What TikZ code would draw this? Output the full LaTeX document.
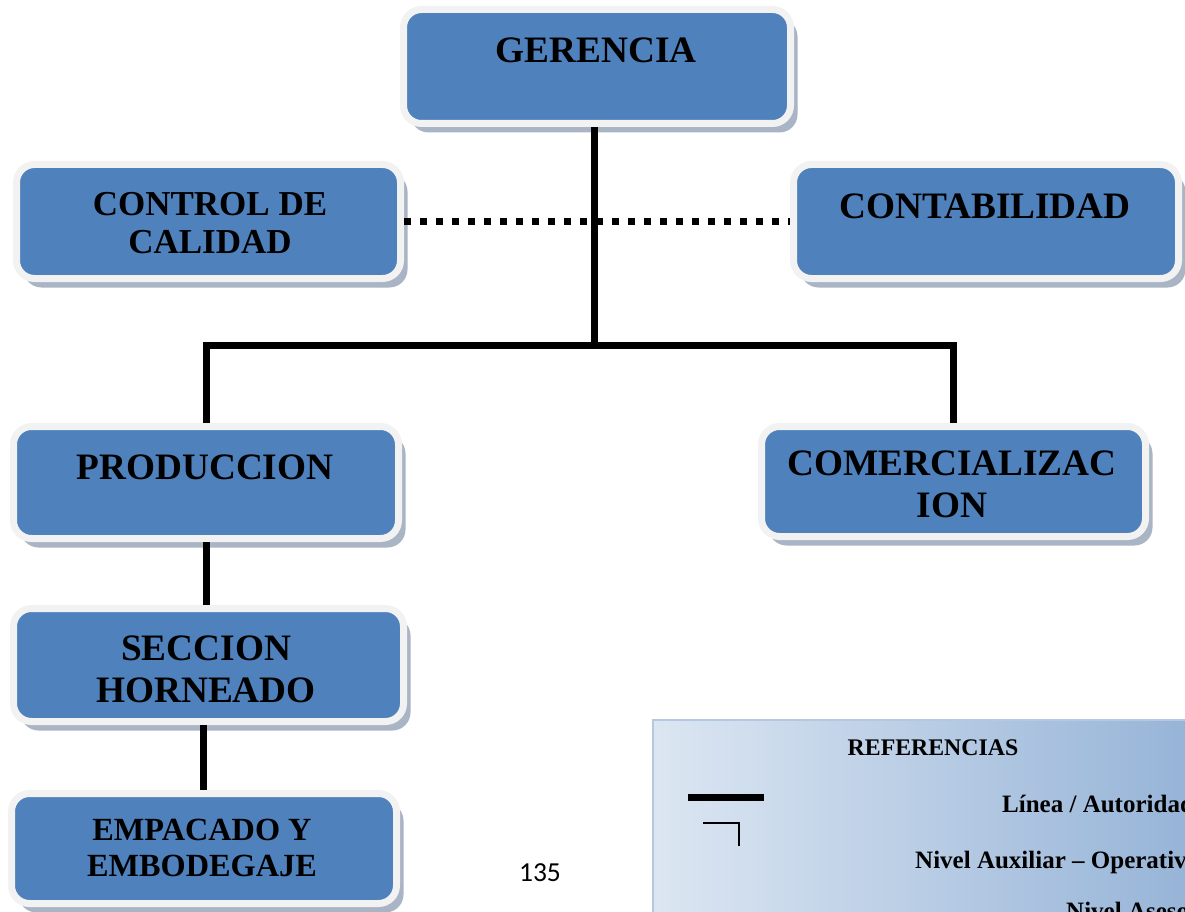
\documentclass[tikz,border=0pt]{standalone}
\usepackage{fontspec}
\setmainfont{Liberation Serif}
\newfontfamily\pagefont{Carlito}
\usetikzlibrary{shadows}
\definecolor{boxblue}{HTML}{4F81BD}
\definecolor{rimgrey}{HTML}{F2F2F2}
\definecolor{shadowc}{HTML}{A9B4C4}
\definecolor{refl}{HTML}{DCE6F2}
\definecolor{refm}{HTML}{D0DCEC}
\definecolor{refd}{HTML}{95B3D7}
\definecolor{refedge}{HTML}{B4C8E2}
\begin{document}
\begin{tikzpicture}[x=1pt,y=-1pt,
  orgbox/.style={fill=boxblue, draw=rimgrey, line width=7pt, rounded corners=18pt,
    inner sep=0pt, minimum height=114pt,
    drop shadow={shadow xshift=7pt, shadow yshift=-9pt, fill=shadowc, opacity=1}},
  lbl/.style={font=\bfseries\fontsize{37.3}{42}\selectfont, align=center, text=black, inner sep=0pt},
  conn/.style={line width=7pt, black},
  dotconn/.style={line width=7pt, black, dash pattern=on 7pt off 9pt},
  reftext/.style={font=\bfseries\fontsize{25}{29}\selectfont, inner sep=0pt}]
\useasboundingbox (0,0) rectangle (1185,912);
\clip (0,0) rectangle (1185,912);

% boxes
\node[orgbox, minimum width=387pt] (ger) at (597,66.5) {};
\node[orgbox, minimum width=384pt] (cc) at (208.5,221.5) {};
\node[orgbox, minimum width=385pt] (cont) at (986,221.5) {};
\node[orgbox, minimum width=385pt, minimum height=112pt] (prod) at (206,482.5) {};
\node[orgbox, minimum width=384pt, minimum height=110pt] (com) at (953.5,481.5) {};
\node[orgbox, minimum width=390pt, minimum height=113pt] (sec) at (208.5,665) {};
\node[orgbox, minimum width=385pt, minimum height=110pt] (emp) at (204,848.5) {};

% labels
\node[lbl] at (596,50) {GERENCIA};
\node[lbl, font=\bfseries\fontsize{35}{38}\selectfont] at (210,223) {CONTROL DE\\CALIDAD};
\node[lbl] at (985,206) {CONTABILIDAD};
\node[lbl] at (205,467) {PRODUCCION};
\node[lbl] at (952,484) {COMERCIALIZAC\\ION};
\node[lbl] at (206,669) {SECCION\\HORNEADO};
\node[lbl, font=\bfseries\fontsize{32.3}{36}\selectfont] at (202,848) {EMPACADO Y\\EMBODEGAJE};

% connectors
\coordinate (busL) at (206,345);
\coordinate (busM) at (594,345);
\coordinate (busR) at (com.north |- busL);
\draw[dotconn] (cc.east) -- (cont.west);
\draw[conn] (ger.south -| busM) -- (busM);
\draw[conn] (prod.north) -- (busL) -- (busR) -- (com.north);
\draw[conn] (prod.south) -- (prod.south |- sec.north);
\draw[conn] ([xshift=-5pt]sec.south) -- ([xshift=-5pt]sec.south |- emp.north);

% page number
\node[font=\pagefont\fontsize{27.5}{32}\selectfont, inner sep=0pt] (pg) at (540,873) {135};

% legend
\shade[left color=refl, middle color=refm, right color=refd, draw=refedge, line width=2pt]
  (653,720) rectangle (1200,930);
\node[reftext, font=\bfseries\fontsize{23.8}{28}\selectfont, anchor=base] (refh) at (933,755) {REFERENCIAS};
\coordinate (l1a) at (688,797);
\coordinate (l1b) at (764,797);
\draw[line width=7pt] (l1a) -- (l1b);
\coordinate (l2a) at (703,823);
\coordinate (l2b) at (739,823);
\coordinate (l2c) at (739,846);
\draw[line width=2pt] (l2a) -- (l2b) -- (l2c);
\node[reftext, anchor=base west] (t1) at (1002,812) {Línea / Autoridad};
\node[reftext, anchor=base west] (t2) at (915,868) {Nivel Auxiliar – Operativo};
\node[reftext, anchor=base west] (t3) at (1066,919) {Nivel Asesor};
\end{tikzpicture}
\end{document}
